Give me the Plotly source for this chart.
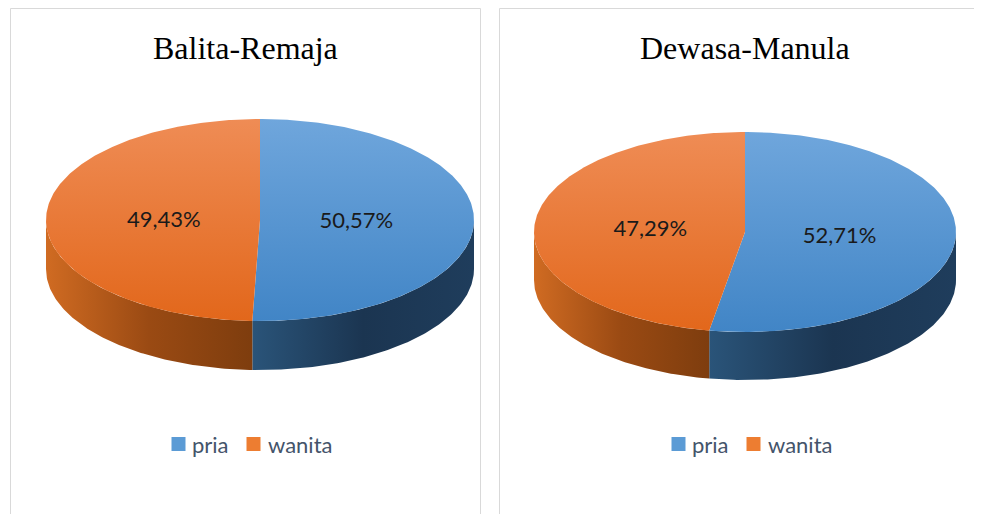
import numpy as np
import plotly.graph_objects as go

# ---- data ----
chart_titles = ["Balita-Remaja", "Dewasa-Manula"]
categories = ["pria", "wanita"]
values_balita = [50.57, 49.43]
values_dewasa = [52.71, 47.29]
label_texts_balita = ["50,57%", "49,43%"]
label_texts_dewasa = ["52,71%", "47,29%"]

# ---- style / layout ----
W, H = 982, 514
OFF = 8  # page body margin
top_grad = {"pria": ["#6FA6DC", "#4185C6"], "wanita": ["#EF8C55", "#E2671B"]}
side_grad = {"pria": ["#2A5479", "#1B3551", "#1F3D5C"], "wanita": ["#D06B22", "#9A4A13", "#7E3D0E"]}
legend_colors = {"pria": "#5B9BD5", "wanita": "#ED7D31"}

panels = [
    dict(cx=260, cy=220, rx=214, ry=101, depth=49, tx=245, vals=values_balita, labels=label_texts_balita),
    dict(cx=745, cy=232, rx=211, ry=100, depth=48, tx=745, vals=values_dewasa, labels=label_texts_dewasa),
]
legend_sq_dx = [-66.5, 8.5]
legend_tx_dx = [-55, 20.5]
legend_y = 444

fig = go.Figure()


def ell(p, th, dy=0.0):
    t = np.radians(th)
    return p["cx"] + p["rx"] * np.sin(t), p["cy"] - p["ry"] * np.cos(t) + dy


annotations = []
for p in panels:
    vals = np.array(p["vals"], dtype=float)
    angles = np.concatenate([[0], np.cumsum(vals) / vals.sum() * 360])
    # sides (front half only: 90..270 deg clockwise from top)
    for i, cat in enumerate(categories):
        a, b = max(angles[i], 90), min(angles[i + 1], 270)
        if b <= a:
            continue
        th = np.linspace(a, b, 120)
        xt, yt = ell(p, th)
        xb, yb = ell(p, th[::-1], p["depth"])
        xs = np.concatenate([xt, xb, xt[:1]])
        ys = np.concatenate([yt, yb, yt[:1]])
        cs = side_grad[cat]
        fig.add_trace(go.Scatter(
            x=xs, y=ys, mode="lines", fill="toself", line=dict(width=0),
            fillgradient=dict(type="horizontal", colorscale=[[0, cs[0]], [0.5, cs[1]], [1, cs[2]]],
                              start=float(xs.min()), stop=float(xs.max())),
            hoverinfo="skip", showlegend=False))
    # tops
    for i, cat in enumerate(categories):
        th = np.linspace(angles[i], angles[i + 1], 300)
        xa, ya = ell(p, th)
        xs = np.concatenate([[p["cx"]], xa, [p["cx"]]])
        ys = np.concatenate([[p["cy"]], ya, [p["cy"]]])
        cs = top_grad[cat]
        fig.add_trace(go.Scatter(
            x=xs, y=ys, mode="lines", fill="toself", line=dict(width=0),
            fillgradient=dict(type="vertical", colorscale=[[0, cs[0]], [1, cs[1]]],
                              start=float(p["cy"] - p["ry"]), stop=float(p["cy"] + p["ry"])),
            hoverinfo="skip", showlegend=False))
    # labels
    for i, cat in enumerate(categories):
        mid = (angles[i] + angles[i + 1]) / 2
        t = np.radians(mid)
        k = 0.45
        fig.add_trace(go.Scatter(
            x=[p["cx"] + p["rx"] * k * np.sin(t)], y=[p["cy"] - p["ry"] * k * np.cos(t) + 2],
            mode="text", text=[p["labels"][i]],
            textfont=dict(family="Lato", size=22, color="#1A1A1A"),
            hoverinfo="skip", showlegend=False))
    # legend (manual)
    for j, cat in enumerate(categories):
        fig.add_trace(go.Scatter(
            x=[p["tx"] + legend_sq_dx[j]], y=[legend_y], mode="markers", name=cat,
            marker=dict(symbol="square", size=14, color=legend_colors[cat], line=dict(width=0)),
            hoverinfo="skip", showlegend=False))
        annotations.append(dict(x=p["tx"] + legend_tx_dx[j], y=legend_y, xref="x", yref="y",
                                text=cat, showarrow=False, xanchor="left", yanchor="middle",
                                font=dict(family="Lato", size=22, color="#44546A")))

for p, t in zip(panels, chart_titles):
    annotations.append(dict(x=p["tx"], y=48, xref="x", yref="y", text=t, showarrow=False,
                            font=dict(family="Liberation Serif", size=32, color="#000000")))

fig.update_layout(
    width=W - OFF, height=H - OFF, margin=dict(l=0, r=0, t=0, b=0),
    paper_bgcolor="white", plot_bgcolor="white",
    xaxis=dict(range=[OFF, W], visible=False, fixedrange=True),
    yaxis=dict(range=[H, OFF], visible=False, fixedrange=True),
    annotations=annotations,
    showlegend=False,
    shapes=[
        dict(type="rect", xref="x", yref="y", x0=10.5, x1=480.5, y0=8.5, y1=530,
             line=dict(color="#D9D9D9", width=1)),
        dict(type="rect", xref="x", yref="y", x0=499.5, x1=990, y0=8.5, y1=530,
             line=dict(color="#D9D9D9", width=1)),
    ],
    hovermode=False,
)

fig.write_html("out.html")
